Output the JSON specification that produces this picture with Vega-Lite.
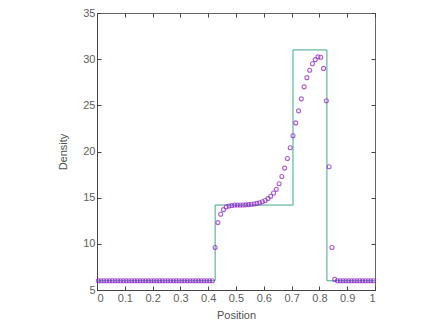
{
  "$schema": "https://vega.github.io/schema/vega-lite/v6.json",
  "width": 278,
  "height": 277,
  "autosize": "none",
  "padding": {"left": 97, "top": 13, "right": 68, "bottom": 42},
  "background": "white",
  "config": {
    "view": {"stroke": "#666", "strokeWidth": 1},
    "font": "Liberation Sans",
    "axis": {
      "grid": false,
      "domainColor": "#444",
      "tickColor": "#444",
      "tickSize": -4,
      "labelFont": "Liberation Sans",
      "labelFontSize": 11,
      "labelColor": "#606060",
      "titleFont": "Liberation Sans",
      "titleFontSize": 11,
      "titleFontWeight": "normal",
      "titleColor": "#505050"
    }
  },
  "datasets": {
    "exact": [
      {"x": 0, "rho": 6},
      {"x": 0.425, "rho": 6},
      {"x": 0.425, "rho": 14.2},
      {"x": 0.705, "rho": 14.2},
      {"x": 0.705, "rho": 31},
      {"x": 0.827, "rho": 31},
      {"x": 0.827, "rho": 6},
      {"x": 1, "rho": 6}
    ],
    "num": [
      {"x": 0.005, "rho": 6}, {"x": 0.015, "rho": 6}, {"x": 0.025, "rho": 6}, {"x": 0.035, "rho": 6},
      {"x": 0.045, "rho": 6}, {"x": 0.055, "rho": 6}, {"x": 0.065, "rho": 6}, {"x": 0.075, "rho": 6},
      {"x": 0.085, "rho": 6}, {"x": 0.095, "rho": 6}, {"x": 0.105, "rho": 6}, {"x": 0.115, "rho": 6},
      {"x": 0.125, "rho": 6}, {"x": 0.135, "rho": 6}, {"x": 0.145, "rho": 6}, {"x": 0.155, "rho": 6},
      {"x": 0.165, "rho": 6}, {"x": 0.175, "rho": 6}, {"x": 0.185, "rho": 6}, {"x": 0.195, "rho": 6},
      {"x": 0.205, "rho": 6}, {"x": 0.215, "rho": 6}, {"x": 0.225, "rho": 6}, {"x": 0.235, "rho": 6},
      {"x": 0.245, "rho": 6}, {"x": 0.255, "rho": 6}, {"x": 0.265, "rho": 6}, {"x": 0.275, "rho": 6},
      {"x": 0.285, "rho": 6}, {"x": 0.295, "rho": 6}, {"x": 0.305, "rho": 6}, {"x": 0.315, "rho": 6},
      {"x": 0.325, "rho": 6}, {"x": 0.335, "rho": 6}, {"x": 0.345, "rho": 6}, {"x": 0.355, "rho": 6},
      {"x": 0.365, "rho": 6}, {"x": 0.375, "rho": 6}, {"x": 0.385, "rho": 6}, {"x": 0.395, "rho": 6},
      {"x": 0.405, "rho": 6}, {"x": 0.415, "rho": 6},
      {"x": 0.425, "rho": 9.6}, {"x": 0.435, "rho": 12.3}, {"x": 0.445, "rho": 13.2}, {"x": 0.455, "rho": 13.7},
      {"x": 0.465, "rho": 14.0}, {"x": 0.475, "rho": 14.1}, {"x": 0.485, "rho": 14.15}, {"x": 0.495, "rho": 14.2},
      {"x": 0.505, "rho": 14.2}, {"x": 0.515, "rho": 14.2}, {"x": 0.525, "rho": 14.2}, {"x": 0.535, "rho": 14.22},
      {"x": 0.545, "rho": 14.25}, {"x": 0.555, "rho": 14.28}, {"x": 0.565, "rho": 14.32}, {"x": 0.575, "rho": 14.38},
      {"x": 0.585, "rho": 14.45}, {"x": 0.595, "rho": 14.55}, {"x": 0.605, "rho": 14.7}, {"x": 0.615, "rho": 14.9},
      {"x": 0.625, "rho": 15.15}, {"x": 0.635, "rho": 15.5}, {"x": 0.645, "rho": 15.9}, {"x": 0.655, "rho": 16.5},
      {"x": 0.665, "rho": 17.3}, {"x": 0.675, "rho": 18.2}, {"x": 0.685, "rho": 19.25}, {"x": 0.695, "rho": 20.4},
      {"x": 0.705, "rho": 21.7}, {"x": 0.715, "rho": 23.1}, {"x": 0.725, "rho": 24.4}, {"x": 0.735, "rho": 25.7},
      {"x": 0.745, "rho": 27.0}, {"x": 0.755, "rho": 28.0}, {"x": 0.765, "rho": 28.8}, {"x": 0.775, "rho": 29.5},
      {"x": 0.785, "rho": 29.95}, {"x": 0.795, "rho": 30.25}, {"x": 0.805, "rho": 30.2}, {"x": 0.815, "rho": 29.0},
      {"x": 0.825, "rho": 25.5}, {"x": 0.835, "rho": 18.35}, {"x": 0.845, "rho": 9.6}, {"x": 0.855, "rho": 6.15},
      {"x": 0.865, "rho": 6}, {"x": 0.875, "rho": 6}, {"x": 0.885, "rho": 6}, {"x": 0.895, "rho": 6},
      {"x": 0.905, "rho": 6}, {"x": 0.915, "rho": 6}, {"x": 0.925, "rho": 6}, {"x": 0.935, "rho": 6},
      {"x": 0.945, "rho": 6}, {"x": 0.955, "rho": 6}, {"x": 0.965, "rho": 6}, {"x": 0.975, "rho": 6},
      {"x": 0.985, "rho": 6}, {"x": 0.995, "rho": 6}
    ]
  },
  "layer": [
    {
      "data": {"name": "exact"},
      "mark": {"type": "line", "color": "#3fa88e", "strokeWidth": 1},
      "encoding": {
        "x": {"field": "x", "type": "quantitative", "scale": {"domain": [0, 1], "nice": false},
          "axis": {"title": "Position", "values": [0, 0.1, 0.2, 0.3, 0.4, 0.5, 0.6, 0.7, 0.8, 0.9, 1], "format": "~g", "labelPadding": 6, "titlePadding": 6}},
        "y": {"field": "rho", "type": "quantitative", "scale": {"domain": [5, 35], "nice": false},
          "axis": {"title": "Density", "values": [5, 10, 15, 20, 25, 30, 35], "labelPadding": 6, "titlePadding": 14}}
      }
    },
    {
      "data": {"name": "num"},
      "mark": {"type": "point", "shape": "circle", "filled": false, "color": "#8a1ccc", "size": 16, "strokeWidth": 1.1},
      "encoding": {
        "x": {"field": "x", "type": "quantitative",
          "axis": {"orient": "top", "labels": false, "title": null, "domain": false, "values": [0, 0.1, 0.2, 0.3, 0.4, 0.5, 0.6, 0.7, 0.8, 0.9, 1]}},
        "y": {"field": "rho", "type": "quantitative",
          "axis": {"orient": "right", "labels": false, "title": null, "domain": false, "values": [5, 10, 15, 20, 25, 30, 35]}}
      }
    }
  ],
  "resolve": {"axis": {"x": "independent", "y": "independent"}}
}
